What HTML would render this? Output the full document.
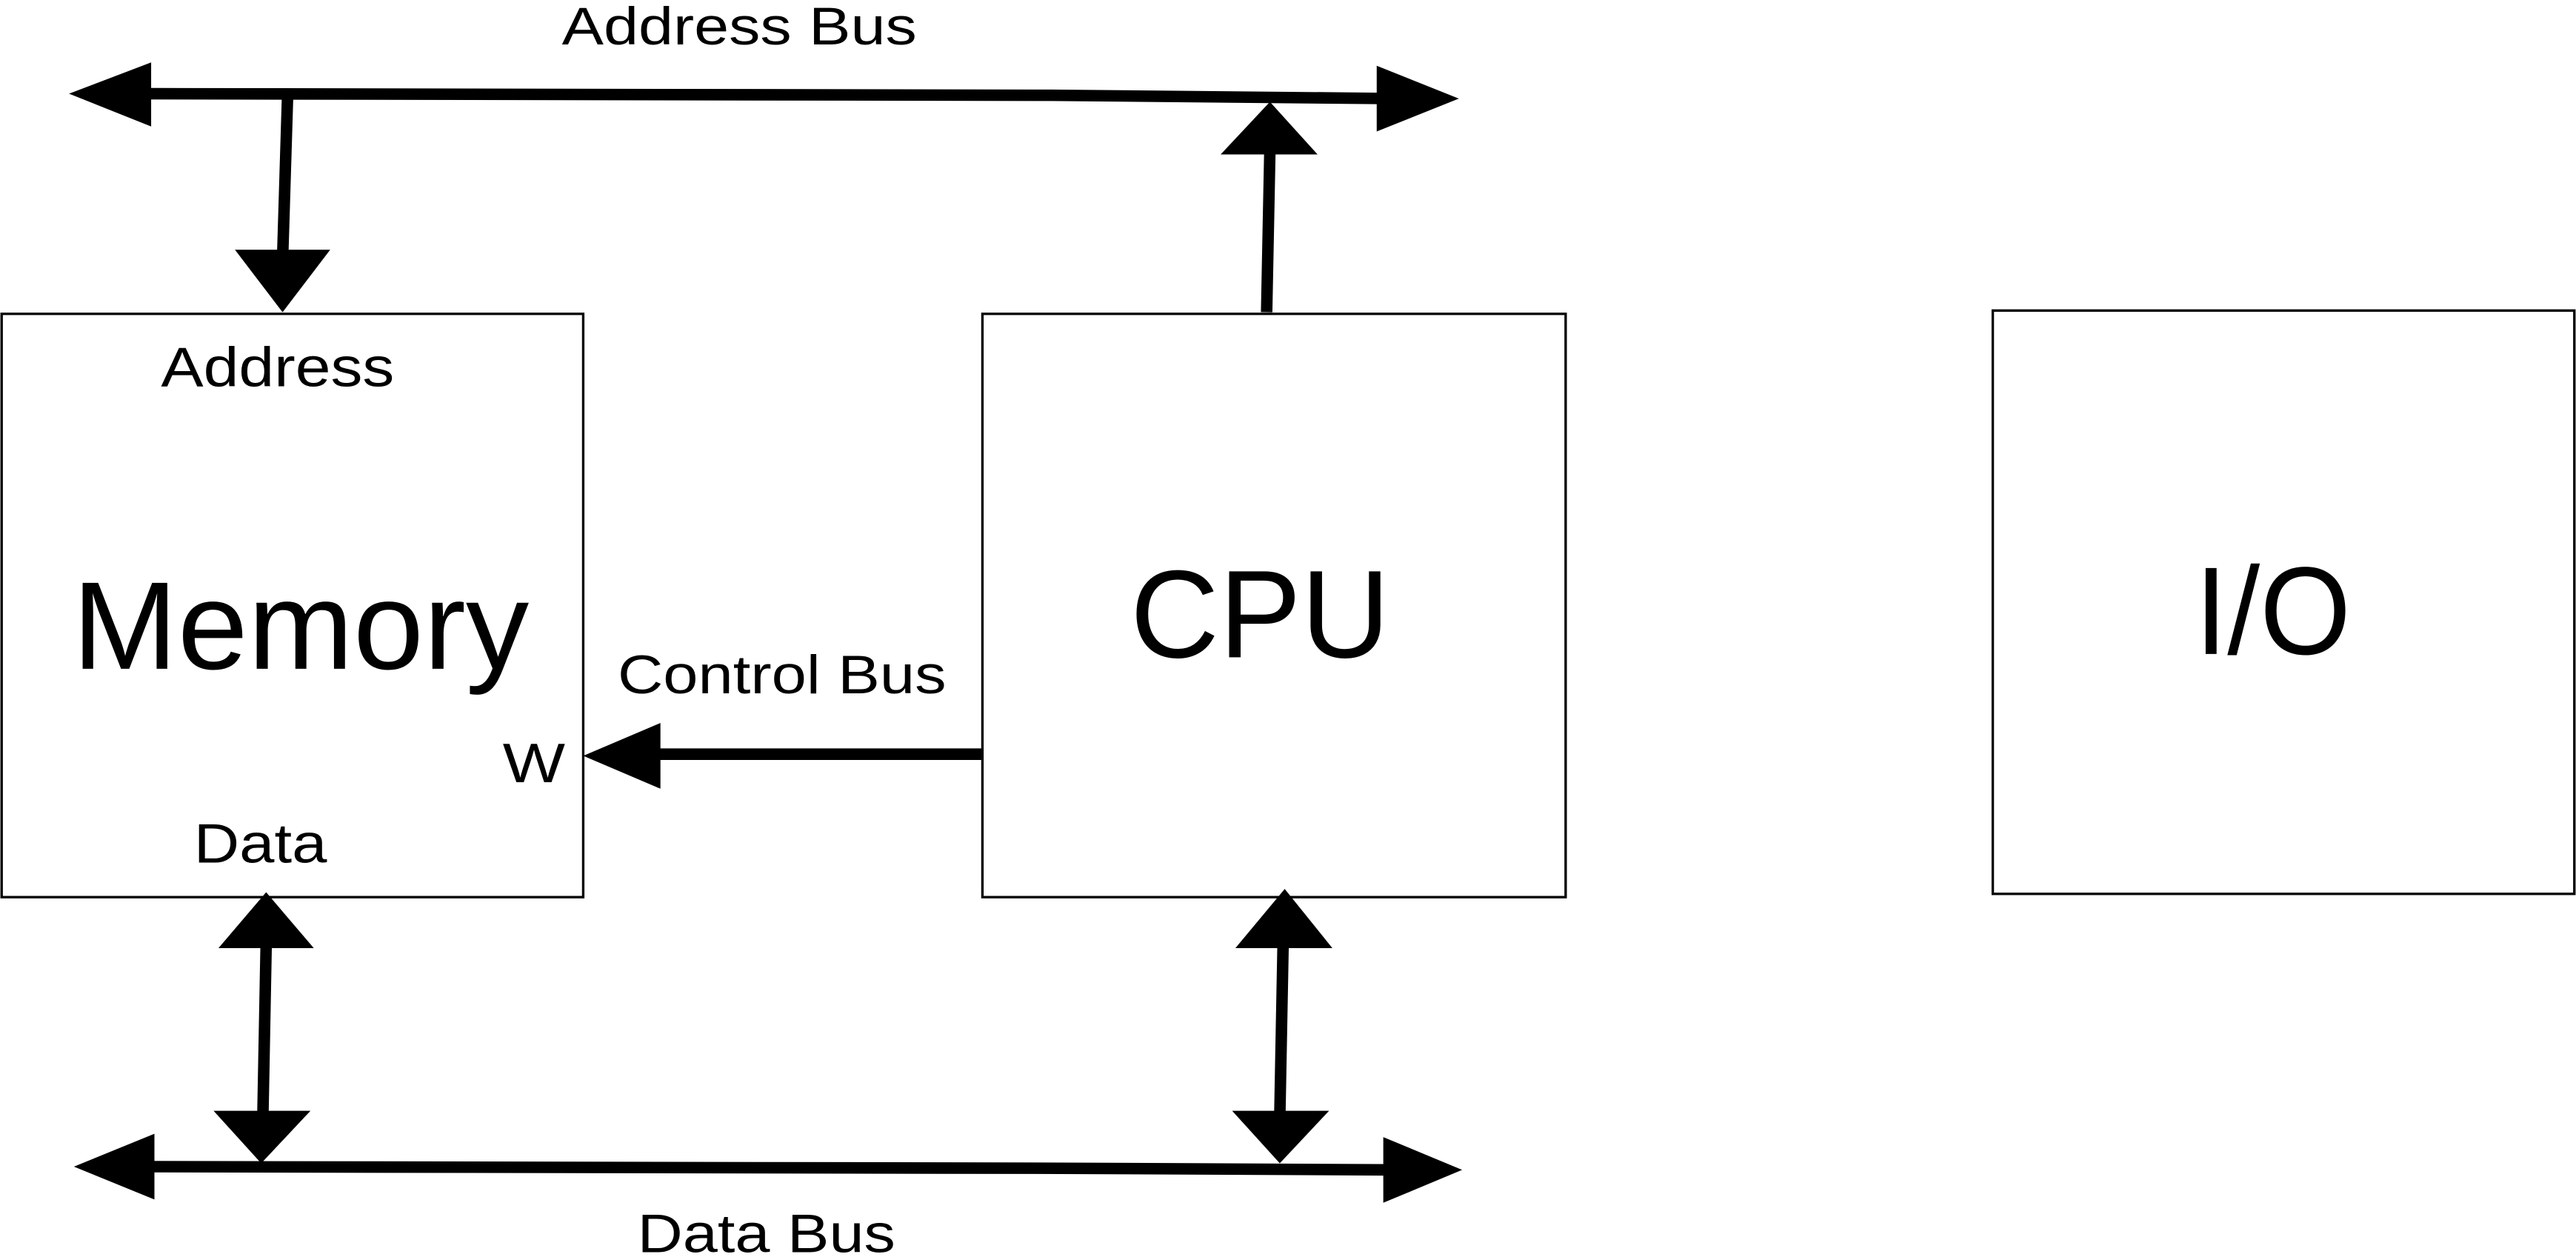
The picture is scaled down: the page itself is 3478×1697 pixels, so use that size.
<!DOCTYPE html>
<html><head><meta charset="utf-8"><style>
html,body{margin:0;padding:0;background:#fff;overflow:hidden}
svg{display:block}
text{font-family:"Liberation Sans",sans-serif;fill:#000}
</style></head><body>
<svg width="3478" height="1697" viewBox="0 0 1568 765" preserveAspectRatio="none" xmlns="http://www.w3.org/2000/svg">
<g stroke="#000" stroke-width="7" fill="none">
<polyline points="80,57 640,58 850,60"/>
<line x1="175" y1="60" x2="172" y2="158"/>
<line x1="771" y1="190" x2="773" y2="90"/>
<line x1="598" y1="459" x2="398" y2="459"/>
<line x1="162" y1="575" x2="160" y2="680"/>
<line x1="781" y1="575" x2="779" y2="680"/>
<polyline points="85,710 645,711 850,712"/>
</g>
<g fill="#000">
<polygon points="42,57 92,38 92,77"/>
<polygon points="888,60 838,40 838,80"/>
<polygon points="143,152 201,152 172,190"/>
<polygon points="743,94 802,94 773,62"/>
<polygon points="355,460 402,440 402,480"/>
<polygon points="133,577 191,577 162,543"/>
<polygon points="130,676 189,676 159,708"/>
<polygon points="752,577 811,577 782,541"/>
<polygon points="750,676 809,676 779,708"/>
<polygon points="45,710 94,690 94,730"/>
<polygon points="890,712 842,692 842,732"/>
</g>
<g stroke="#000" stroke-width="1.5" fill="none">
<rect x="1" y="191" width="354" height="355"/>
<rect x="598" y="191" width="355" height="355"/>
<rect x="1213" y="189" width="354" height="355"/>
</g>
<text x="342" y="27" font-size="32" textLength="216" lengthAdjust="spacingAndGlyphs">Address Bus</text>
<text x="98" y="235" font-size="34" textLength="142" lengthAdjust="spacingAndGlyphs">Address</text>
<text x="44" y="407" font-size="76" textLength="278" lengthAdjust="spacingAndGlyphs">Memory</text>
<text x="118" y="525" font-size="34" textLength="81" lengthAdjust="spacingAndGlyphs">Data</text>
<text x="306" y="476" font-size="34" textLength="38" lengthAdjust="spacingAndGlyphs">W</text>
<text x="376" y="422" font-size="33" textLength="200" lengthAdjust="spacingAndGlyphs">Control Bus</text>
<text x="688" y="400" font-size="76" textLength="158" lengthAdjust="spacingAndGlyphs">CPU</text>
<text x="1336" y="398" font-size="76" textLength="95" lengthAdjust="spacingAndGlyphs">I/O</text>
<text x="388" y="762" font-size="33" textLength="157" lengthAdjust="spacingAndGlyphs">Data Bus</text>
</svg>
</body></html>
